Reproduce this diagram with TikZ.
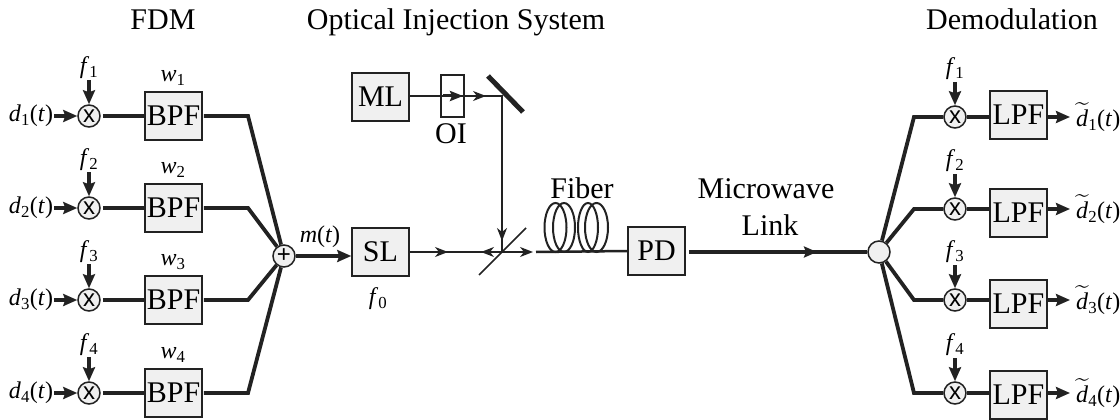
\documentclass[tikz,border=0pt]{standalone}
\usepackage{fontspec}
\usepackage{amsmath}
\setmainfont{Liberation Serif}
\newfontfamily\symfont{Liberation Sans}
\usetikzlibrary{arrows.meta,decorations.markings}
\newcommand{\bigtext}{\fontsize{30}{34}\selectfont}
\newcommand{\smalltext}{\fontsize{24}{28}\selectfont}
\newcommand{\subi}[2]{\textit{#1}\textsubscript{#2}}
\definecolor{boxgray}{HTML}{F0F0F0}
\definecolor{inkgray}{HTML}{222222}
\tikzset{
  blockbox/.style={draw=inkgray,line width=1.5pt,fill=boxgray,minimum width=57pt,minimum height=48pt,inner sep=0pt,font=\bigtext},
  junction/.style={circle,draw=inkgray,line width=1.5pt,fill=boxgray,minimum size=22pt,inner sep=0pt},
  heavy/.style={line width=3.8pt,draw=inkgray},
  beam/.style={line width=1.5pt,draw=inkgray},
  pointer/.style={line width=3.6pt,draw=inkgray,-{Stealth[length=14pt,width=12pt,inset=2pt]}},
  beamtip/.style={line width=1.5pt,draw=inkgray,-{Stealth[length=13pt,width=10pt,inset=4pt]}},
  bigword/.style={font=\bigtext,anchor=base},
  smallword/.style={font=\smalltext},
  mixmark/.style={font=\symfont\fontsize{24}{24}\selectfont}
}
\begin{document}
\begin{tikzpicture}[x=1pt,y=-1pt]
\useasboundingbox (0,0) rectangle (1120,420);
\node[bigword] (titlefdm) at (163,30) {FDM};
\node[bigword] (titleinj) at (456,30) {Optical Injection System};
\node[bigword] (titledem) at (1012,30) {Demodulation};
\node[junction,mixmark] (sum) at (284,256) {+};
\foreach \i/\y in {1/116,2/208,3/300,4/393} {
  \node[junction,mixmark] (mix\i) at (89,\y) {x};
  \node[blockbox] (bpf\i) at (173.5,\y) {BPF};
  \node[smallword] (d\i) at (31,\y) {\subi{d}{\i}(\textit{t})};
  \node[smallword] (f\i) at (89,\y-48) {\subi{f}{\i}};
  \node[smallword] (w\i) at (173,\y-38) {\subi{w}{\i}};
  \coordinate (corner\i) at (248,\y);
  \coordinate (dtail\i) at (54,\y);
  \coordinate (ftail\i) at (89,\y-36);
  \draw[pointer] (dtail\i) -- (mix\i.west);
  \draw[pointer] (ftail\i) -- (mix\i.north);
  \draw[heavy,shorten <=2pt] (mix\i) -- (bpf\i);
  \draw[heavy,line join=miter,shorten <=1pt] (bpf\i.east) -- (corner\i) -- (sum);
}
\node[blockbox] (sl) at (380.5,252) {SL};
\node[blockbox] (ml) at (380.5,97) {ML};
\node[draw=inkgray,line width=1.5pt,minimum width=23pt,minimum height=42pt,inner sep=0pt] (oi) at (452.5,96) {};
\node[bigword] (oilabel) at (451,143) {OI};
\node[smallword] (f0) at (378,299) {\subi{f}{0}};
\node[blockbox] (pd) at (656.5,251) {PD};
\coordinate (sumout) at (sum.east);
\draw[pointer] (sumout) -- (sumout -| sl.west);
\node[smallword] (mt) at (320,237) {\textit{m}(\textit{t})};
\coordinate (mirtop) at (488,76);
\coordinate (mirbot) at (523,112);
\coordinate (mirhit) at (502,96);
\coordinate (bs) at (502,252);
\coordinate (bstop) at (526,228);
\coordinate (bsbot) at (479,275);
\draw[line width=5pt,draw=inkgray] (mirtop) -- (mirbot);
\draw[beam] (bsbot) -- (bstop);
\coordinate (oitail) at (443,96);
\coordinate (oitip) at (463,96);
\coordinate (mltip) at (486,96);
\draw[beam] (ml.east |- mirhit) -- (mirhit) -- (bs);
\draw[line width=3pt,draw=inkgray,-{Stealth[length=13pt,width=10pt,inset=2pt]}] (oitail) -- (oitip);
\draw[beamtip] (473,96) -- (mltip);
\coordinate (downtip) at (502,241);
\draw[beamtip] (502,226) -- (downtip);
\coordinate (slout) at (sl.east);
\coordinate (fwdtip) at (448,252);
\coordinate (backtip) at (481,252);
\coordinate (outtip) at (533,252);
\draw[beam] (slout) -- (bs);
\draw[beamtip] (slout) -- (fwdtip);
\draw[beamtip] (bs) -- (backtip);
\draw[beamtip] (bs) -- (outtip);
\coordinate (fiberin) at (536,252);
\draw[line width=2.5pt,draw=inkgray] (fiberin) -- (pd.west);
\foreach \cx/\rx in {555.5/11,564/11,588/10,596.5/11.5} {
  \draw[line width=2pt,draw=inkgray] (\cx,227.5) ellipse[x radius=\rx,y radius=24.5];
}
\node[bigword] (fiber) at (582,198) {Fiber};
\node[bigword] (micro) at (766,198) {Microwave};
\node[bigword] (link) at (770,235) {Link};
\node[junction] (split) at (879,252) {};
\draw[heavy,shorten <=3pt] (pd.east |- split) -- (split);
\coordinate (linktip) at (817,252);
\draw[draw=inkgray,line width=3.8pt,-{Stealth[length=13pt,width=11pt,inset=2pt]}] (800,252) -- (linktip);
\foreach \i/\y/\by in {1/117/115,2/209/213,3/300/304,4/393/395} {
  \coordinate (elbow\i) at (914,\y);
  \node[junction,mixmark] (dem\i) at (955,\y) {x};
  \node[blockbox] (lpf\i) at (1018.5,\by) {LPF};
  \node[smallword] (rf\i) at (955,\y-48) {\subi{f}{\i}};
  \coordinate (rtail\i) at (955,\y-35);
  \coordinate (otip\i) at (1070,\y);
  \node[smallword,anchor=west,inner sep=0pt] (dt\i) at (1076,\y) {$\widetilde{\mbox{\textit{d}}}$\textsubscript{\i}(\textit{t})};
  \draw[heavy,line join=miter] (split) -- (elbow\i) -- (dem\i);
  \draw[heavy] (dem\i) -- (lpf\i.west |- dem\i);
  \draw[pointer] (rtail\i) -- (dem\i.north);
  \draw[pointer] (lpf\i.east |- dem\i) -- (otip\i);
}
\end{tikzpicture}
\end{document}
